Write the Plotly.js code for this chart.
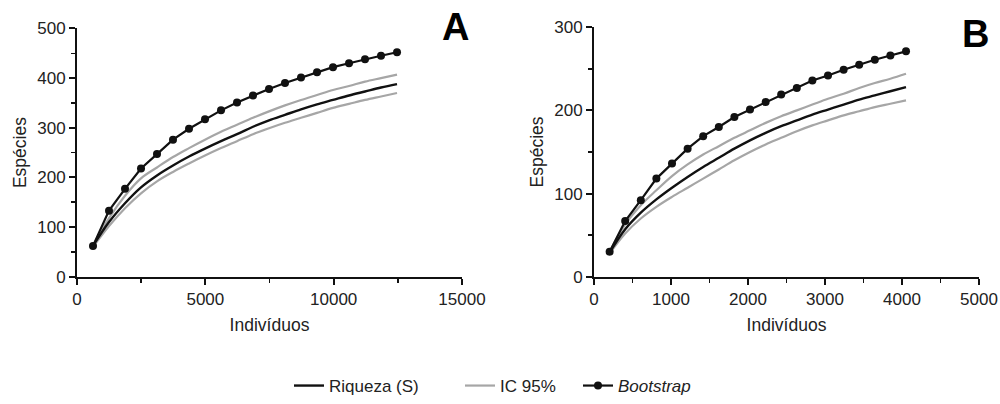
<!DOCTYPE html>
<html>
<head>
<meta charset="utf-8">
<script src="https://cdn.plot.ly/plotly-3.0.1.min.js"></script>
<style>html,body{margin:0;padding:0;background:#fff}#chart{width:1000px;height:404px}</style>
</head>
<body>
<div id="chart"></div>
<script>
// ---- Panel A data ----
const nA = [623, 1247, 1870, 2494, 3117, 3740, 4364, 4987, 5611, 6234, 6857, 7481, 8104, 8728, 9351, 9974, 10598, 11221, 11845, 12468];
const bootA = [62, 133, 177, 218, 247, 276, 298, 317, 335, 351, 365, 378, 390, 401, 412, 422, 430, 438, 445, 452];
const riqA = [62, 110, 148, 180, 204, 224, 242, 258, 273, 287, 302, 315, 326, 337, 347, 356, 365, 373, 381, 388];
const icUpA = [62, 118, 163, 198, 220, 241, 259, 276, 292, 306, 320, 333, 345, 356, 366, 376, 384, 393, 400, 407];
const icLoA = [60, 102, 138, 168, 192, 211, 228, 244, 259, 273, 287, 299, 310, 320, 330, 340, 348, 356, 363, 370];

// ---- Panel B data ----
const nB = [203, 405, 608, 810, 1013, 1216, 1418, 1621, 1823, 2026, 2229, 2431, 2634, 2836, 3039, 3242, 3444, 3647, 3849, 4052];
const bootB = [30, 67, 92, 118, 136, 154, 169, 180, 192, 201, 210, 219, 227, 236, 242, 249, 255, 261, 266, 271];
const riqB = [29, 57, 77, 93, 107, 120, 132, 143, 154, 164, 173, 181, 188, 195, 201, 207, 213, 218, 223, 228];
const icUpB = [30, 63, 86, 104, 121, 135, 147, 157, 167, 176, 185, 193, 200, 207, 214, 220, 227, 233, 238, 244];
const icLoB = [28, 52, 70, 84, 96, 107, 118, 129, 140, 150, 159, 167, 175, 182, 188, 194, 199, 204, 208, 212];

// ---- Labels ----
const seriesNames = ["Riqueza (S)", "IC 95%", "<i>Bootstrap</i>"];
const panelLabels = ["A", "B"];
const xTitle = "Indivíduos";
const yTitle = "Espécies";
const xTicksA = [0, 5000, 10000, 15000];
const yTicksA = [0, 100, 200, 300, 400, 500];
const xTicksB = [0, 1000, 2000, 3000, 4000, 5000];
const yTicksB = [0, 100, 200, 300];

const BLACK = "#111111";
const GRAY = "#a6a6a6";
const FONT = "Liberation Sans, Arial, sans-serif";

function panelTraces(n, riq, up, lo, boot, xa, ya, showLeg) {
  return [
    {x: n, y: up, xaxis: xa, yaxis: ya, type: "scatter", mode: "lines", name: seriesNames[1],
     line: {color: GRAY, width: 2.2, shape: "spline"}, showlegend: showLeg, legend: "legend2", hoverinfo: "skip"},
    {x: n, y: lo, xaxis: xa, yaxis: ya, type: "scatter", mode: "lines", name: seriesNames[1],
     line: {color: GRAY, width: 2.2, shape: "spline"}, showlegend: false, hoverinfo: "skip"},
    {x: n, y: riq, xaxis: xa, yaxis: ya, type: "scatter", mode: "lines", name: seriesNames[0],
     line: {color: BLACK, width: 2.4, shape: "spline"}, showlegend: showLeg, legend: "legend", hoverinfo: "skip"},
    {x: n, y: boot, xaxis: xa, yaxis: ya, type: "scatter", mode: "lines+markers", name: seriesNames[2],
     line: {color: BLACK, width: 2.2}, marker: {color: BLACK, size: 8, symbol: "circle"},
     showlegend: showLeg, legend: "legend3", hoverinfo: "skip"}
  ];
}

const data = [
  ...panelTraces(nA, riqA, icUpA, icLoA, bootA, "x", "y", true),
  ...panelTraces(nB, riqB, icUpB, icLoB, bootB, "x2", "y2", false)
];

function xAxis(domain, range, ticks, minorD, anchor) {
  return {
    domain: domain, range: range, anchor: anchor, tickvals: ticks, ticktext: ticks.map(String),
    exponentformat: "none", separatethousands: false,
    showgrid: false, zeroline: false, showline: true, linecolor: BLACK, linewidth: 2,
    ticks: "outside", ticklen: 6, tickwidth: 2, tickcolor: BLACK,
    minor: {dtick: minorD, tick0: 0, ticks: "outside", ticklen: 4, tickwidth: 1.5, tickcolor: BLACK, showgrid: false},
    tickfont: {family: FONT, size: 17, color: "#222"},
    title: {text: xTitle, font: {family: FONT, size: 17.5, color: "#222"}, standoff: 11},
    automargin: false, fixedrange: true
  };
}
function yAxis(domain, range, ticks, minorD, anchor) {
  return {
    domain: domain, range: range, anchor: anchor, tickvals: ticks, ticktext: ticks.map(String),
    showgrid: false, zeroline: false, showline: true, linecolor: BLACK, linewidth: 2,
    ticks: "outside", ticklen: 6, tickwidth: 2, tickcolor: BLACK,
    minor: {dtick: minorD, tick0: 0, ticks: "outside", ticklen: 4, tickwidth: 1.5, tickcolor: BLACK, showgrid: false},
    tickfont: {family: FONT, size: 17, color: "#222"},
    title: {text: yTitle, font: {family: FONT, size: 17.5, color: "#222"}, standoff: 6},
    automargin: false, fixedrange: true
  };
}

const legendBase = {orientation: "h", yanchor: "middle", xanchor: "left", y: 0.022,
  bgcolor: "rgba(0,0,0,0)", borderwidth: 0, font: {family: FONT, size: 17, color: "#222"}};

const layout = {
  width: 1000, height: 404,
  margin: {l: 0, r: 0, t: 0, b: 0},
  paper_bgcolor: "#fff", plot_bgcolor: "#fff",
  showlegend: true,
  xaxis: xAxis([0.077, 0.462], [0, 15000], xTicksA, 2500, "y"),
  yaxis: yAxis([0.2995, 0.928], [0, 500], yTicksA, 50, "x"),
  xaxis2: xAxis([0.594, 0.979], [0, 5000], xTicksB, 500, "y2"),
  yaxis2: yAxis([0.2995, 0.931], [0, 300], yTicksB, 50, "x2"),
  legend: Object.assign({}, legendBase, {x: 0.289}),
  legend2: Object.assign({}, legendBase, {x: 0.460}),
  legend3: Object.assign({}, legendBase, {x: 0.578}),
  annotations: [
    {text: "<b>" + panelLabels[0] + "</b>", xref: "paper", yref: "paper", x: 0.455, y: 0.932,
     xanchor: "center", yanchor: "middle", showarrow: false, font: {family: FONT, size: 38, color: "#000"}},
    {text: "<b>" + panelLabels[1] + "</b>", xref: "paper", yref: "paper", x: 0.975, y: 0.915,
     xanchor: "center", yanchor: "middle", showarrow: false, font: {family: FONT, size: 38, color: "#000"}}
  ]
};

Plotly.newPlot("chart", data, layout, {displayModeBar: false, staticPlot: true});
</script>
</body>
</html>
